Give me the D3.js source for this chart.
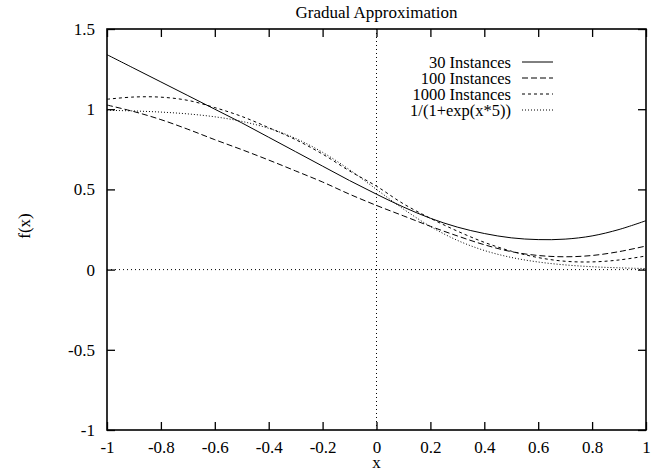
<!DOCTYPE html>
<html>
<head>
<meta charset="utf-8">
<script src="https://cdn.jsdelivr.net/npm/d3@7"></script>
<style>
  html, body { margin: 0; padding: 0; background: #fff; }
  svg { display: block; }
  text { font-family: "Liberation Serif", "Times New Roman", serif; fill: #000; }
</style>
</head>
<body>
<svg id="chart" width="661" height="472"></svg>
<script>
// Sample positions along x
const xs = [-1, -0.9, -0.8, -0.7, -0.6, -0.5, -0.4, -0.3, -0.2, -0.1, 0,
            0.1, 0.2, 0.3, 0.4, 0.5, 0.6, 0.7, 0.8, 0.9, 1];

// Fitted outputs for each training size
const inst30 = [1.34, 1.255, 1.17, 1.085, 1.0, 0.915, 0.825, 0.735, 0.645, 0.555, 0.47,
                0.39, 0.32, 0.265, 0.225, 0.198, 0.187, 0.19, 0.21, 0.25, 0.305];
const inst100 = [1.026, 0.985, 0.935, 0.875, 0.81, 0.748, 0.683, 0.615, 0.546, 0.47, 0.40,
                 0.335, 0.27, 0.21, 0.155, 0.112, 0.088, 0.08, 0.088, 0.112, 0.147];
const inst1000 = [1.062, 1.076, 1.075, 1.055, 1.01, 0.955, 0.885, 0.81, 0.72, 0.615, 0.52,
                  0.41, 0.32, 0.24, 0.17, 0.115, 0.075, 0.052, 0.048, 0.06, 0.085];
// Target function 1/(1+exp(x*5)) at the same positions
const target = [0.9933, 0.989, 0.982, 0.9707, 0.9526, 0.9241, 0.8808, 0.8176, 0.7311, 0.6225, 0.5,
                0.3775, 0.2689, 0.1824, 0.1192, 0.0759, 0.0474, 0.0293, 0.018, 0.011, 0.0067];

const seriesNames = ["30 Instances", "100 Instances", "1000 Instances", "1/(1+exp(x*5))"];
const seriesValues = [inst30, inst100, inst1000, target];
const seriesDash = [null, "6,3", "3,3", "1,2"];

const xTicks = [-1, -0.8, -0.6, -0.4, -0.2, 0, 0.2, 0.4, 0.6, 0.8, 1];
const xTickLabels = ["-1", "-0.8", "-0.6", "-0.4", "-0.2", "0", "0.2", "0.4", "0.6", "0.8", "1"];
const yTicks = [-1, -0.5, 0, 0.5, 1, 1.5];
const yTickLabels = ["-1", "-0.5", "0", "0.5", "1", "1.5"];

const titleText = "Gradual Approximation";
const xLabelText = "x";
const yLabelText = "f(x)";

const svg = d3.select("#chart");
const plotL = 107, plotR = 646, plotT = 29, plotB = 430;

const x = d3.scaleLinear().domain([-1, 1]).range([plotL, plotR]);
const y = d3.scaleLinear().domain([-1, 1.5]).range([plotB, plotT]);

const fontSize = 17;
const legendFontSize = 16.5;
const tickLen = 8;

// zero axes (dotted)
svg.append("line")
  .attr("x1", x(0)).attr("x2", x(0)).attr("y1", plotT).attr("y2", plotB)
  .attr("stroke", "#000").attr("stroke-width", 1).attr("stroke-dasharray", "1,3");
svg.append("line")
  .attr("x1", plotL).attr("x2", plotR).attr("y1", y(0)).attr("y2", y(0))
  .attr("stroke", "#000").attr("stroke-width", 1).attr("stroke-dasharray", "1,3");

// axes with inward ticks on all four sides
const fmtX = d => xTickLabels[xTicks.indexOf(d)];
const fmtY = d => yTickLabels[yTicks.indexOf(d)];

const gBottom = svg.append("g").attr("transform", `translate(0,${plotB})`)
  .call(d3.axisBottom(x).tickValues(xTicks).tickFormat(fmtX).tickSizeInner(-tickLen).tickSizeOuter(0).tickPadding(11));
const gTop = svg.append("g").attr("transform", `translate(0,${plotT})`)
  .call(d3.axisTop(x).tickValues(xTicks).tickFormat("").tickSizeInner(-tickLen).tickSizeOuter(0));
const gLeft = svg.append("g").attr("transform", `translate(${plotL},0)`)
  .call(d3.axisLeft(y).tickValues(yTicks).tickFormat(fmtY).tickSizeInner(-tickLen).tickSizeOuter(0).tickPadding(12));
const gRight = svg.append("g").attr("transform", `translate(${plotR},0)`)
  .call(d3.axisRight(y).tickValues(yTicks).tickFormat("").tickSizeInner(-tickLen).tickSizeOuter(0));

[gBottom, gTop, gLeft, gRight].forEach(g => {
  g.select(".domain").remove();
  g.selectAll(".tick line").attr("stroke", "#000").attr("stroke-width", 1.3);
  g.selectAll("text").attr("font-size", fontSize)
    .style("font-family", '"Liberation Serif", "Times New Roman", serif').attr("fill", "#000");
});
gBottom.selectAll("text").attr("dy", "0.71em");

// frame
svg.append("rect")
  .attr("x", plotL).attr("y", plotT).attr("width", plotR - plotL).attr("height", plotB - plotT)
  .attr("fill", "none").attr("stroke", "#000").attr("stroke-width", 1.6);

// curves
const line = d3.line().x((d, i) => x(xs[i])).y(d => y(d)).curve(d3.curveCatmullRom.alpha(0.5));
svg.append("clipPath").attr("id", "plotclip")
  .append("rect").attr("x", plotL).attr("y", plotT).attr("width", plotR - plotL).attr("height", plotB - plotT);

svg.append("g").attr("clip-path", "url(#plotclip)")
  .selectAll("path").data(seriesValues).join("path")
  .attr("d", d => line(d))
  .attr("fill", "none").attr("stroke", "#000").attr("stroke-width", 1)
  .attr("stroke-dasharray", (d, i) => seriesDash[i]);

// legend
const legendTextX = 511, legendLineX1 = 522, legendLineX2 = 553, legendY0 = 62, legendStep = 16;
const lg = svg.append("g");
seriesNames.forEach((name, i) => {
  const yy = legendY0 + i * legendStep;
  lg.append("text").attr("x", legendTextX).attr("y", yy).attr("dy", "0.35em")
    .attr("text-anchor", "end").attr("font-size", legendFontSize).text(name);
  lg.append("line").attr("x1", legendLineX1).attr("x2", legendLineX2).attr("y1", yy).attr("y2", yy)
    .attr("stroke", "#000").attr("stroke-width", 1).attr("stroke-dasharray", seriesDash[i]);
});

// title and axis labels
svg.append("text").attr("x", (plotL + plotR) / 2).attr("y", 18).attr("text-anchor", "middle")
  .attr("font-size", fontSize).text(titleText);
svg.append("text").attr("x", (plotL + plotR) / 2).attr("y", 468).attr("text-anchor", "middle")
  .attr("font-size", fontSize).text(xLabelText);
svg.append("text").attr("transform", `translate(30,226) rotate(-90)`)
  .attr("text-anchor", "middle").attr("font-size", fontSize).text(yLabelText);
</script>
</body>
</html>
